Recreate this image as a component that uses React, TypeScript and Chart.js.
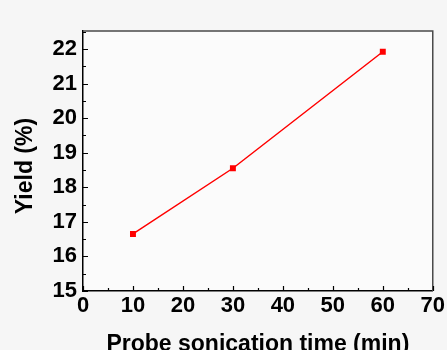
import React, { useEffect, useRef } from "react";
import { Chart, registerables } from "chart.js";

Chart.register(...registerables);

const sonicationTimes = [10, 30, 60];
const yieldValues = [16.65, 18.55, 21.92];
const xTickValues = [0, 10, 20, 30, 40, 50, 60, 70];
const yTickValues = [15, 16, 17, 18, 19, 20, 21, 22];
const xMinorValues = [5, 15, 25, 35, 45, 55, 65];
const yMinorValues = [15.5, 16.5, 17.5, 18.5, 19.5, 20.5, 21.5, 22.5];
const yTitle = "Yield (%)";

const FONT = "'Liberation Sans', Arial, sans-serif";

const framePlugin = {
  id: "frameTicks",
  afterDraw(chart: any) {
    const { ctx, chartArea } = chart;
    const xs = chart.scales.x;
    const ys = chart.scales.y;
    ctx.save();
    ctx.strokeStyle = "#4a4a4a";
    ctx.lineWidth = 1.5;
    ctx.beginPath();
    ctx.moveTo(chartArea.left, chartArea.top);
    ctx.lineTo(chartArea.right, chartArea.top);
    ctx.lineTo(chartArea.right, chartArea.bottom);
    ctx.stroke();
    ctx.strokeStyle = "#000";
    ctx.lineWidth = 1.2;
    ctx.beginPath();
    xTickValues.forEach((v) => {
      const px = Math.round(xs.getPixelForValue(v)) + 0.5;
      ctx.moveTo(px, chartArea.bottom);
      ctx.lineTo(px, chartArea.bottom - 5);
    });
    xMinorValues.forEach((v) => {
      const px = Math.round(xs.getPixelForValue(v)) + 0.5;
      ctx.moveTo(px, chartArea.bottom);
      ctx.lineTo(px, chartArea.bottom - 3);
    });
    yTickValues.forEach((v) => {
      const py = Math.round(ys.getPixelForValue(v)) + 0.5;
      ctx.moveTo(chartArea.left, py);
      ctx.lineTo(chartArea.left + 5, py);
    });
    yMinorValues.forEach((v) => {
      const py = Math.round(ys.getPixelForValue(v)) + 0.5;
      ctx.moveTo(chartArea.left, py);
      ctx.lineTo(chartArea.left + 3, py);
    });
    ctx.stroke();
    ctx.translate(26, 166);
    ctx.rotate(-Math.PI / 2);
    ctx.fillStyle = "#000";
    ctx.font = `bold 23px ${FONT}`;
    ctx.textAlign = "center";
    ctx.textBaseline = "middle";
    ctx.fillText(yTitle, 0, 0);
    ctx.restore();
  },
};

const bgPlugin = {
  id: "bgFill",
  beforeDraw(chart: any) {
    const { ctx, width, height, chartArea } = chart;
    ctx.save();
    ctx.fillStyle = "#f6f6f6";
    ctx.fillRect(0, 0, width, height);
    ctx.fillStyle = "#fbfbfb";
    ctx.fillRect(chartArea.left, chartArea.top, chartArea.right - chartArea.left, chartArea.bottom - chartArea.top);
    ctx.restore();
  },
};

export default function App() {
  const ref = useRef<HTMLCanvasElement | null>(null);
  useEffect(() => {
    if (!ref.current) return;
    const chart = new Chart(ref.current, {
      type: "line",
      data: {
        datasets: [
          {
            data: sonicationTimes.map((x, i) => ({ x, y: yieldValues[i] })),
            borderColor: "#ff0000",
            backgroundColor: "#ff0000",
            borderWidth: 1.5,
            pointStyle: "rect",
            pointRadius: 4.2,
            pointBorderWidth: 0,
            tension: 0,
          },
        ],
      },
      options: {
        responsive: false,
        animation: false,
        events: [],
        layout: { padding: { left: 0, top: 31, right: 12, bottom: 0 } },
        plugins: { legend: { display: false }, tooltip: { enabled: false } },
        scales: {
          x: {
            type: "linear",
            min: 0,
            max: 70,
            afterBuildTicks: (s: any) => {
              s.ticks = xTickValues.map((v) => ({ value: v }));
            },
            afterFit: (s: any) => {
              s.height = 59;
            },
            grid: { display: false, drawTicks: false },
            border: { display: true, color: "#000", width: 1.5 },
            ticks: {
              color: "#000",
              padding: 2,
              maxRotation: 0,
              font: { family: FONT, size: 22, weight: "bold" },
            },
            title: {
              display: true,
              text: "Probe sonication time (min)",
              color: "#000",
              font: { family: FONT, size: 23, weight: "bold", lineHeight: 0.5 },
              padding: 0,
            },
          },
          y: {
            type: "linear",
            min: 15,
            max: 22.52,
            afterBuildTicks: (s: any) => {
              s.ticks = yTickValues.map((v) => ({ value: v }));
            },
            afterFit: (s: any) => {
              s.width = 83;
            },
            grid: { display: false, drawTicks: false },
            border: { display: true, color: "#000", width: 1.5 },
            ticks: {
              color: "#000",
              padding: 6,
              font: { family: FONT, size: 22, weight: "bold" },
            },
            title: { display: false },
          },
        },
      },
      plugins: [bgPlugin, framePlugin],
    } as any);
    return () => chart.destroy();
  }, []);
  return (
    <div style={{ position: "absolute", left: 0, top: 0, width: 447, height: 350 }}>
      <canvas ref={ref} width={447} height={350} style={{ display: "block" }} />
    </div>
  );
}
